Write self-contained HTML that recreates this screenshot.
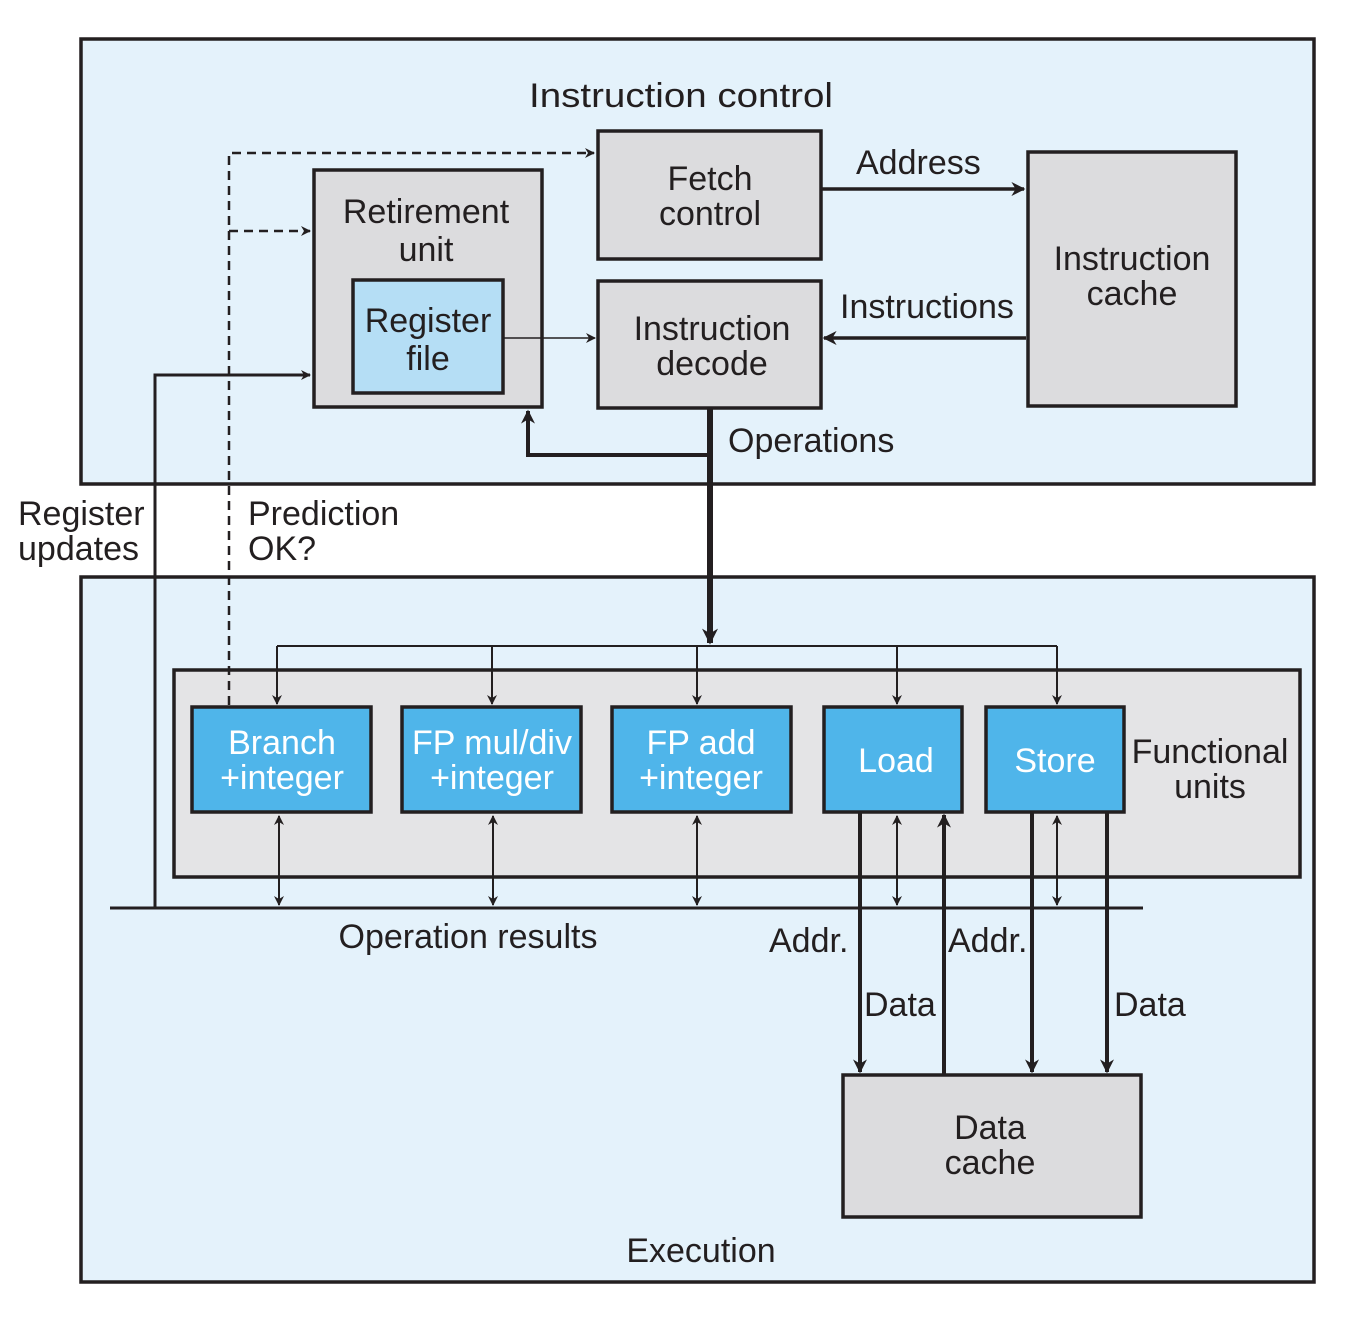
<!DOCTYPE html>
<html><head><style>body{margin:0;background:#fff}svg{display:block}text{font-family:"Liberation Sans",sans-serif;font-size:34px;fill:#231f20}</style></head><body>
<svg width="1358" height="1342" viewBox="0 0 1358 1342">
<defs>
<marker id="a" viewBox="0 0 10 10" refX="9" refY="5" markerWidth="10" markerHeight="10" markerUnits="userSpaceOnUse" orient="auto-start-reverse"><path d="M0,0L10,5L0,10L3,5z" fill="#231f20"/></marker>
<marker id="b" viewBox="0 0 10 10" refX="9" refY="5" markerWidth="14" markerHeight="14" markerUnits="userSpaceOnUse" orient="auto"><path d="M0,0L10,5L0,10L3,5z" fill="#231f20"/></marker>
<marker id="c" viewBox="0 0 10 10" refX="9" refY="5" markerWidth="20" markerHeight="16" markerUnits="userSpaceOnUse" orient="auto"><path d="M0,0L10,5L0,10L3,5z" fill="#231f20"/></marker>
</defs>
<g stroke="#231f20" stroke-width="3.5">
<rect x="81" y="39" width="1233" height="445" fill="#e4f2fb"/>
<rect x="81" y="577" width="1233" height="705" fill="#e4f2fb"/>
<rect x="598" y="131" width="223" height="128" fill="#dcdcde"/>
<rect x="598" y="281" width="223" height="127" fill="#dcdcde"/>
<rect x="1028" y="152" width="208" height="254" fill="#dcdcde"/>
<rect x="314" y="170" width="228" height="237" fill="#dcdcde"/>
<rect x="353" y="280" width="150" height="113" fill="#b5def5"/>
<rect x="174" y="670" width="1126" height="207" fill="#e4e4e6"/>
<rect x="192" y="707" width="179" height="105" fill="#4fb5ea"/>
<rect x="402" y="707" width="179" height="105" fill="#4fb5ea"/>
<rect x="612" y="707" width="179" height="105" fill="#4fb5ea"/>
<rect x="824" y="707" width="138" height="105" fill="#4fb5ea"/>
<rect x="986" y="707" width="138" height="105" fill="#4fb5ea"/>
<rect x="843" y="1075" width="298" height="142" fill="#dcdcde"/>
</g>
<g fill="none" stroke="#231f20">
<path d="M821,189H1024" stroke-width="3.5" marker-end="url(#b)"/>
<path d="M1026,338H824" stroke-width="3.5" marker-end="url(#b)"/>
<path d="M503,338H595" stroke-width="1.5" marker-end="url(#a)"/>
<path d="M229,705V153H594" stroke-width="2.5" stroke-dasharray="9,6" marker-end="url(#a)"/>
<path d="M229,231H310" stroke-width="2.5" stroke-dasharray="9,6" marker-end="url(#a)"/>
<path d="M110,908H1143" stroke-width="3"/>
<path d="M155,908V375H310" stroke-width="3" marker-end="url(#a)"/>
<path d="M710,408V643" stroke-width="6" marker-end="url(#c)"/>
<path d="M710,455H528V411" stroke-width="4" marker-end="url(#b)"/>
<path d="M277,646H1057" stroke-width="2"/>
<path d="M277,646V704" stroke-width="2" marker-end="url(#a)"/>
<path d="M492,646V704" stroke-width="2" marker-end="url(#a)"/>
<path d="M697,646V704" stroke-width="2" marker-end="url(#a)"/>
<path d="M897,646V704" stroke-width="2" marker-end="url(#a)"/>
<path d="M1057,646V704" stroke-width="2" marker-end="url(#a)"/>
<path d="M279,816V905" stroke-width="2" marker-start="url(#a)" marker-end="url(#a)"/>
<path d="M493,816V905" stroke-width="2" marker-start="url(#a)" marker-end="url(#a)"/>
<path d="M697,816V905" stroke-width="2" marker-start="url(#a)" marker-end="url(#a)"/>
<path d="M897,816V905" stroke-width="2" marker-start="url(#a)" marker-end="url(#a)"/>
<path d="M1057,816V905" stroke-width="2" marker-start="url(#a)" marker-end="url(#a)"/>
<path d="M860,812V1072" stroke-width="4" marker-end="url(#b)"/>
<path d="M1032,812V1072" stroke-width="4" marker-end="url(#b)"/>
<path d="M1107,812V1072" stroke-width="4" marker-end="url(#b)"/>
<path d="M944,1075V815" stroke-width="4" marker-end="url(#b)"/>
</g>
<g text-anchor="middle">
<text x="681" y="107" font-size="37" textLength="304" lengthAdjust="spacingAndGlyphs">Instruction control</text>
<text x="710" y="190">Fetch</text><text x="710" y="225">control</text>
<text x="712" y="340">Instruction</text><text x="712" y="375">decode</text>
<text x="1132" y="270">Instruction</text><text x="1132" y="305">cache</text>
<text x="426" y="223">Retirement</text><text x="426" y="261">unit</text>
<text x="428" y="332">Register</text><text x="428" y="370">file</text>
<text x="282" y="754" style="fill:#fff">Branch</text><text x="282" y="789" style="fill:#fff">+integer</text>
<text x="492" y="754" style="fill:#fff">FP mul/div</text><text x="492" y="789" style="fill:#fff">+integer</text>
<text x="701" y="754" style="fill:#fff">FP add</text><text x="701" y="789" style="fill:#fff">+integer</text>
<text x="896" y="772" style="fill:#fff">Load</text>
<text x="1055" y="772" style="fill:#fff">Store</text>
<text x="1210" y="763">Functional</text><text x="1210" y="798">units</text>
<text x="990" y="1139">Data</text><text x="990" y="1174">cache</text>
<text x="701" y="1262">Execution</text>
<text x="468" y="948">Operation results</text>
</g>
<text x="856" y="174">Address</text>
<text x="840" y="318">Instructions</text>
<text x="728" y="452">Operations</text>
<text x="18" y="525">Register</text><text x="18" y="560">updates</text>
<text x="248" y="525">Prediction</text><text x="248" y="560">OK?</text>
<text x="769" y="952">Addr.</text>
<text x="948" y="952">Addr.</text>
<text x="864" y="1016">Data</text>
<text x="1114" y="1016">Data</text>
</svg>
</body></html>
